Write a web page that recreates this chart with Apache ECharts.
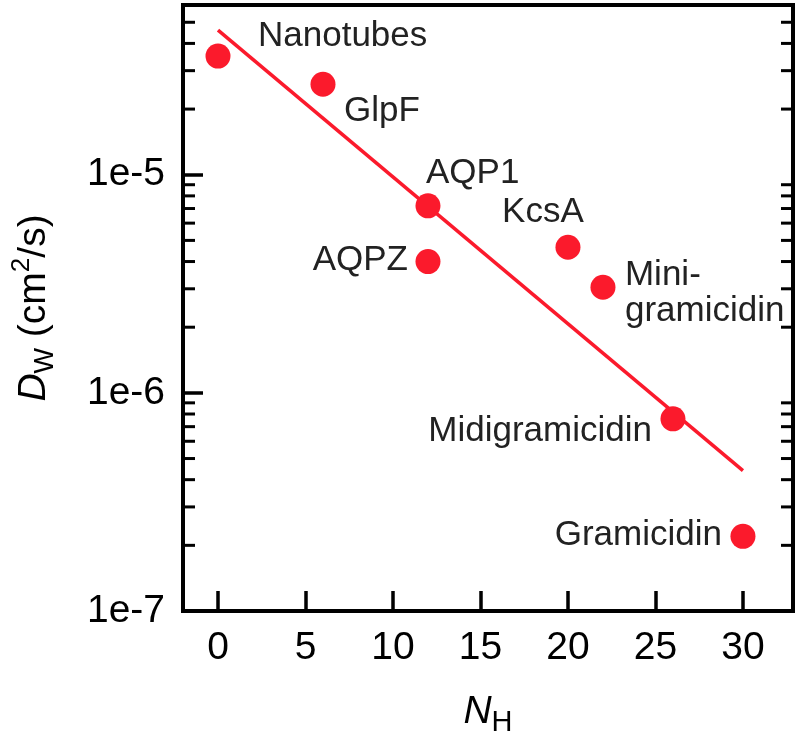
<!DOCTYPE html>
<html>
<head>
<meta charset="utf-8">
<script src="https://cdn.jsdelivr.net/npm/echarts@6/dist/echarts.min.js"></script>
<style>html,body{margin:0;padding:0;background:#fff}#c{width:797px;height:742px}</style>
</head>
<body>
<div id="c"></div>
<script>
// ---- data ----
const names = ['Nanotubes', 'GlpF', 'AQP1', 'AQPZ', 'KcsA', 'Mini-\ngramicidin', 'Midigramicidin', 'Gramicidin'];
const nH = [0, 6, 12, 12, 20, 22, 26, 30];
const dW = [3.5e-5, 2.6e-5, 7.2e-6, 4.0e-6, 4.65e-6, 3.05e-6, 7.6e-7, 2.2e-7];
const fitX = [0, 30];
const fitY = [4.6e-5, 4.4e-7];
const xTicks = [0, 5, 10, 15, 20, 25, 30];
const yTicks = [1e-7, 1e-6, 1e-5];
const yMinorMult = [2, 3, 4, 5, 6, 7, 8, 9];

// ---- axis ranges ----
const X_MIN = -2, X_MAX = 32.86;
const Y_MIN = 1e-7, Y_MAX = 6e-5;

const RED = '#fb1a2c';
const FONT = '"Liberation Sans", Arial, sans-serif';

// label layout (style only)
const labelLayout = [
  {align: 'left', offset: [40, -20]},
  {align: 'left', offset: [21, 27]},
  {align: 'left', offset: [-2, -33]},
  {align: 'right', offset: [-20, -1]},
  {align: 'center', offset: [-25, -35]},
  {align: 'left', offset: [22, 6]},
  {align: 'right', offset: [-21, 12]},
  {align: 'right', offset: [-21, -1]}
];

const minorVals = [];
yTicks.forEach(d => yMinorMult.forEach(m => {
  const v = d * m;
  if (v < Y_MAX * 0.999) minorVals.push(v);
}));

const scatterData = names.map((n, i) => ({
  name: n,
  value: [nH[i], dW[i]],
  label: {
    show: true, position: 'inside', formatter: n,
    align: labelLayout[i].align, verticalAlign: 'middle',
    offset: labelLayout[i].offset
  }
}));

const chart = echarts.init(document.getElementById('c'), null, {renderer: 'canvas'});
chart.setOption({
  animation: false,
  textStyle: {fontFamily: FONT},
  grid: {left: 183, right: 4, top: 5, bottom: 129, show: true, borderColor: '#000', borderWidth: 4, backgroundColor: 'transparent'},
  xAxis: {
    type: 'value', min: X_MIN, max: X_MAX,
    splitLine: {show: false},
    axisLine: {show: true, onZero: false, lineStyle: {color: '#000', width: 4}},
    axisTick: {show: true, inside: true, length: 20, lineStyle: {color: '#000', width: 3.5}, customValues: xTicks},
    axisLabel: {show: true, color: '#000', fontSize: 39, fontFamily: FONT, margin: 18, customValues: xTicks},
    name: '{i|N}{sub|H}',
    nameLocation: 'middle', nameGap: 76,
    nameTextStyle: {
      rich: {
        i: {fontSize: 39, fontStyle: 'italic', fontFamily: FONT, color: '#000', lineHeight: 50},
        sub: {fontSize: 29, fontFamily: FONT, color: '#000', verticalAlign: 'bottom', lineHeight: 30}
      }
    }
  },
  yAxis: {
    type: 'log', logBase: 10, min: Y_MIN, max: Y_MAX,
    splitLine: {show: false},
    axisLine: {show: true, onZero: false, lineStyle: {color: '#000', width: 4}},
    axisTick: {show: true, inside: true, length: 20, lineStyle: {color: '#000', width: 3.5}, customValues: yTicks},
    axisLabel: {
      show: true, color: '#000', fontSize: 39, fontFamily: FONT, margin: 18, customValues: yTicks,
      formatter: v => '1e' + Math.round(Math.log10(v))
    },
    name: '{i|D}{sub|W}{n| (cm}{sup|2}{n|/s)}',
    nameLocation: 'middle', nameGap: 124, nameRotate: 90,
    nameTextStyle: {
      rich: {
        i: {fontSize: 39, fontStyle: 'italic', fontFamily: FONT, color: '#000', lineHeight: 50},
        n: {fontSize: 39, fontFamily: FONT, color: '#000', lineHeight: 50},
        sub: {fontSize: 27, fontFamily: FONT, color: '#000', verticalAlign: 'bottom', lineHeight: 30},
        sup: {fontSize: 26, fontFamily: FONT, color: '#000', verticalAlign: 'top', lineHeight: 30}
      }
    }
  },
  series: [
    {
      type: 'custom',
      coordinateSystem: 'cartesian2d',
      silent: true,
      clip: false,
      encode: {x: 0, y: 1},
      data: minorVals.map(v => [0, v]),
      renderItem: function (params, api) {
        const v = api.value(1);
        const pl = api.coord([X_MIN, v]);
        const pr = api.coord([X_MAX, v]);
        return {
          type: 'group',
          children: [
            {type: 'line', shape: {x1: pl[0], y1: pl[1], x2: pl[0] + 12, y2: pl[1]}, style: {stroke: '#000', lineWidth: 3}},
            {type: 'line', shape: {x1: pr[0] - 12, y1: pr[1], x2: pr[0], y2: pr[1]}, style: {stroke: '#000', lineWidth: 3}}
          ]
        };
      },
      z: 3
    },
    {
      type: 'line',
      data: fitX.map((x, i) => [x, fitY[i]]),
      showSymbol: false, symbol: 'none',
      lineStyle: {color: RED, width: 3.5},
      z: 4
    },
    {
      type: 'scatter',
      data: scatterData,
      symbol: 'circle', symbolSize: 25,
      itemStyle: {color: RED, opacity: 1},
      label: {color: '#222', fontSize: 35, fontFamily: FONT, lineHeight: 36},
      z: 5
    }
  ]
});
</script>
</body>
</html>
